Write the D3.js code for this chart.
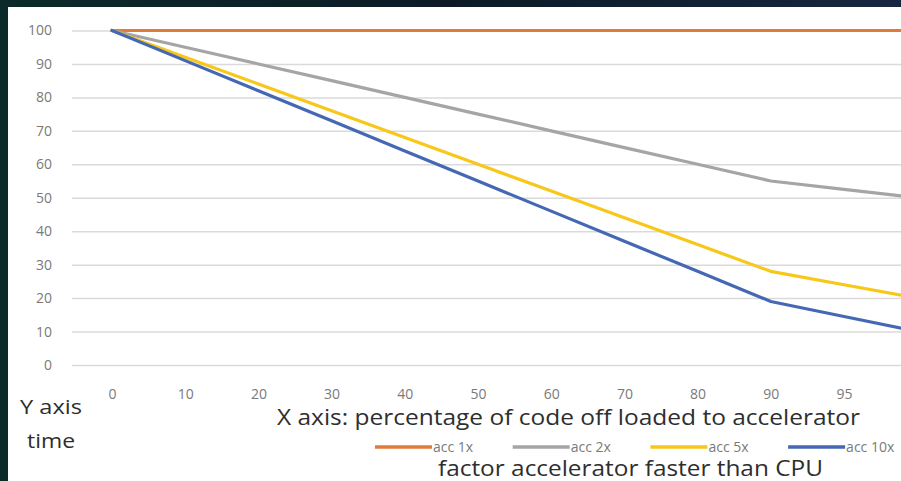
<!DOCTYPE html>
<html>
<head>
<meta charset="utf-8">
<script src="https://cdn.jsdelivr.net/npm/d3@7"></script>
<style>
  html, body { margin: 0; padding: 0; background: #0a1619; }
  svg { display: block; font-family: "Open Sans", "DejaVu Sans", sans-serif; }
</style>
</head>
<body>
<svg id="chart" width="901" height="481"></svg>
<script>
// data
var categories = ["0", "10", "20", "30", "40", "50", "60", "70", "80", "90", "95", "100"];
var acc1x  = [100, 100, 100, 100, 100, 100, 100, 100, 100, 100, 100, 100];
var acc2x  = [100, 95, 90, 85, 80, 75, 70, 65, 60, 55, 52.5, 50];
var acc5x  = [100, 92, 84, 76, 68, 60, 52, 44, 36, 28, 24, 20];
var acc10x = [100, 91, 82, 73, 64, 55, 46, 37, 28, 19, 14.5, 10];
var seriesNames = ["acc 1x", "acc 2x", "acc 5x", "acc 10x"];
var yTicks = [0, 10, 20, 30, 40, 50, 60, 70, 80, 90, 100];
// last category sits past the cropped right edge, its label is not shown
var xTicks = ["0", "10", "20", "30", "40", "50", "60", "70", "80", "90", "95"];

var colors = ["#e27b39", "#a5a5a5", "#f7c71a", "#4568b4"];
var series = [acc1x, acc2x, acc5x, acc10x];

var W = 901, H = 481;
var svg = d3.select("#chart");

// dark board behind the slide
var defs = svg.append("defs");
var grad = defs.append("linearGradient").attr("id", "board")
  .attr("x1", 0).attr("y1", 0).attr("x2", 1).attr("y2", 0);
grad.append("stop").attr("offset", "0%").attr("stop-color", "#0b2a2a");
grad.append("stop").attr("offset", "50%").attr("stop-color", "#0d1a26");
grad.append("stop").attr("offset", "100%").attr("stop-color", "#182640");
svg.append("rect").attr("width", W).attr("height", H).attr("fill", "url(#board)");

// white chart panel
svg.append("rect")
  .attr("x", 8).attr("y", 7)
  .attr("width", W - 8).attr("height", H - 7)
  .attr("fill", "#ffffff");

// plot area (goes past the right edge, the picture is cropped)
var plotLeft = 75.4, step = 73.2;
var x = d3.scalePoint()
  .domain(categories)
  .range([plotLeft, plotLeft + step * categories.length])
  .padding(0.5);

var y = d3.scaleLinear().domain([0, 100]).range([365, 30.5]);

// y gridlines + labels
var yAxis = svg.append("g")
  .attr("transform", "translate(72,0)")
  .call(d3.axisLeft(y).tickValues(yTicks).tickSize(-(W - 72)).tickPadding(20));
yAxis.select(".domain").remove();
yAxis.selectAll(".tick line").attr("stroke", "#dadada").attr("stroke-width", 1.5);
yAxis.selectAll(".tick text")
  .attr("fill", "#7a7a7a")
  .style("font-size", "14px")
  .style("font-family", "'Open Sans', sans-serif");

// x labels
var xAxis = svg.append("g")
  .attr("transform", "translate(0,365)")
  .call(d3.axisBottom(x).tickValues(xTicks).tickSize(0).tickPadding(24));
xAxis.select(".domain").remove();
xAxis.selectAll(".tick text")
  .attr("fill", "#7a7a7a")
  .style("font-size", "14px")
  .style("font-family", "'Open Sans', sans-serif");

// lines
var line = d3.line()
  .x(function(d, i) { return x(categories[i]); })
  .y(function(d) { return y(d); });

svg.append("g").selectAll("path")
  .data(series)
  .enter().append("path")
  .attr("d", line)
  .attr("fill", "none")
  .attr("stroke", function(d, i) { return colors[i]; })
  .attr("stroke-width", 3.2)
  .attr("stroke-linejoin", "round")
  .attr("stroke-linecap", "round");

// titles
function title(txt, tx, ty, len, size) {
  svg.append("text")
    .attr("x", tx).attr("y", ty)
    .attr("textLength", len)
    .attr("lengthAdjust", "spacingAndGlyphs")
    .attr("fill", "#2e2e2e")
    .style("font-size", size + "px")
    .text(txt);
}
title("Y axis", 20, 414, 62, 20);
title("time", 27, 448, 48, 20);
title("X axis: percentage of code off loaded to accelerator", 277, 425, 583, 21);
title("factor accelerator faster than CPU", 438, 476, 385, 21);

// legend
var legend = svg.append("g").attr("transform", "translate(375,447)");
var item = legend.selectAll("g")
  .data(seriesNames)
  .enter().append("g")
  .attr("transform", function(d, i) { return "translate(" + (i * 137.7) + ",0)"; });
item.append("line")
  .attr("x1", 0).attr("x2", 57)
  .attr("stroke", function(d, i) { return colors[i]; })
  .attr("stroke-width", 3.5);
item.append("text")
  .attr("x", 58).attr("dy", "0.35em")
  .attr("fill", "#7a7a7a")
  .style("font-size", "14px")
  .text(function(d) { return d; });
</script>
</body>
</html>
